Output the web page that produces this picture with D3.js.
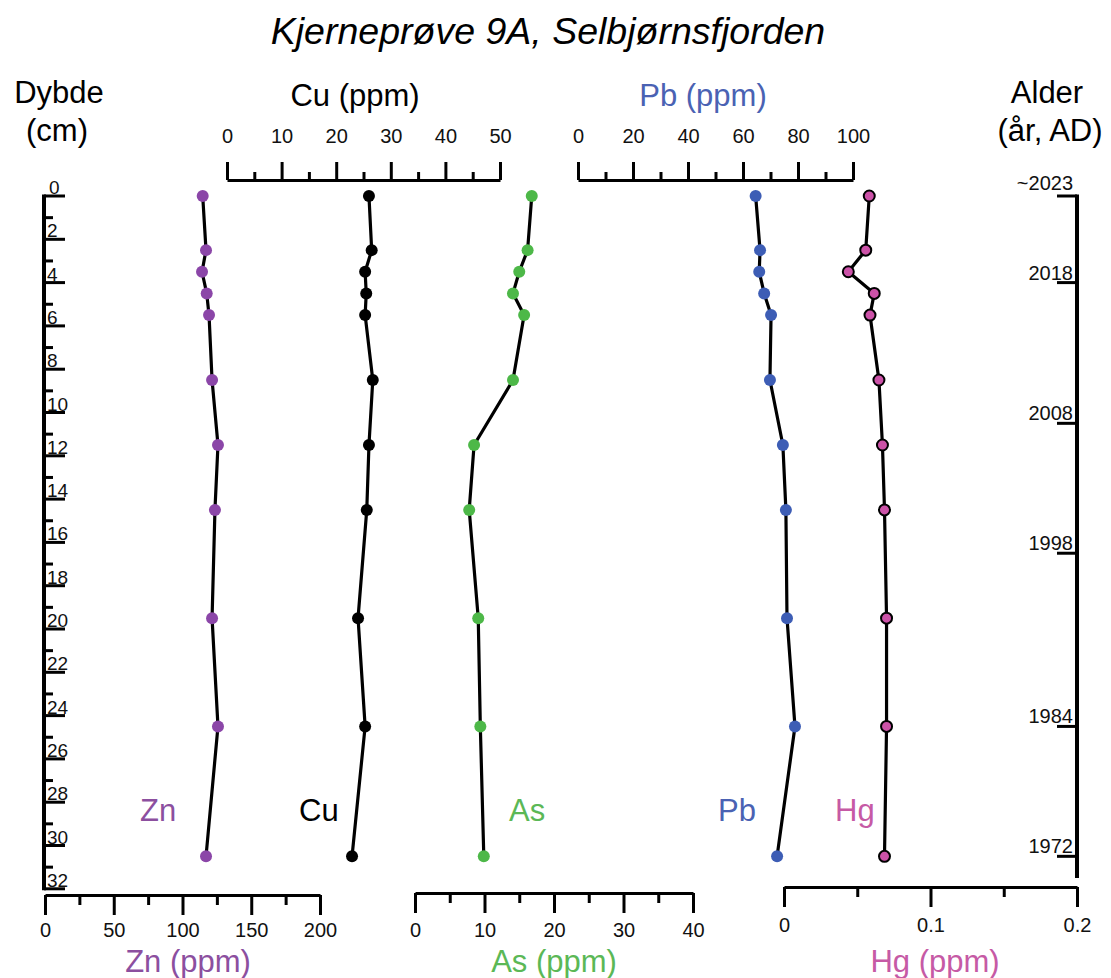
<!DOCTYPE html>
<html><head><meta charset="utf-8">
<script src="https://cdn.jsdelivr.net/npm/d3@7"></script>
<style>
body{margin:0;background:#fff;}
text{font-family:"Liberation Sans",Arial,sans-serif;}
</style></head>
<body><svg id="c" width="1111" height="978"></svg>
<script>
const depths = [0, 2.5, 3.5, 4.5, 5.5, 8.5, 11.5, 14.5, 19.5, 24.5, 30.5];
const zn = [114.7, 117.1, 114.2, 117.6, 119.3, 121.5, 125.8, 123.6, 121.5, 125.8, 117.1];
const cu = [26.0, 26.5, 25.3, 25.5, 25.3, 26.7, 26.0, 25.6, 24.0, 25.3, 22.9];
const as = [16.8, 16.2, 15.0, 14.1, 15.7, 14.1, 8.5, 7.8, 9.1, 9.4, 9.9];
const pb = [64.6, 66.2, 65.9, 67.7, 70.2, 69.8, 74.5, 75.6, 76.0, 78.9, 72.4];
const hg = [0.0582, 0.0558, 0.0439, 0.0616, 0.0587, 0.0648, 0.0672, 0.0686, 0.0700, 0.0700, 0.0686];
const ageLabels = ["~2023", "2018", "2008", "1998", "1984", "1972"];
const ageDepths = [0, 4, 10.5, 16.5, 24.5, 30.5];
const depthTicks = d3.range(0, 33, 1);
const znTicks = [0, 50, 100, 150, 200], znMinor = [25, 75, 125, 175];
const cuTicks = [0, 10, 20, 30, 40, 50], cuMinor = [5, 15, 25, 35, 45];
const asTicks = [0, 10, 20, 30, 40], asMinor = [5, 15, 25, 35];
const pbTicks = [0, 20, 40, 60, 80, 100], pbMinor = [10, 30, 50, 70, 90];
const hgTicks = [0, 0.1, 0.2], hgMinor = [0.05, 0.15];

const col = {zn:"#8b46a8", cu:"#000", as:"#4db848", pb:"#3d5db5", hg:"#cc52a8"};
const tcol = {zn:"#8c4f9f", as:"#5bb856", pb:"#4a62b3", hg:"#c65aa5"};

const svg = d3.select("#c");
const y = d3.scaleLinear([0, 32], [196, 888.8]);
const xZn = d3.scaleLinear([0, 200], [45, 320]);
const xCu = d3.scaleLinear([0, 50], [227, 500]);
const xAs = d3.scaleLinear([0, 40], [415, 693]);
const xPb = d3.scaleLinear([0, 100], [578, 853]);
const xHg = d3.scaleLinear([0, 0.2], [784, 1077]);

// Title
svg.append("text").attr("x", 548).attr("y", 44).attr("text-anchor", "middle")
  .attr("font-size", 37.5).attr("font-style", "italic").text("Kjerneprøve 9A, Selbjørnsfjorden");

function hAxis(scale, yPos, major, minor, dir, fmt, labelY, majLen, minLen) {
  const g = svg.append("g").attr("transform", `translate(0,${yPos})`);
  const ax = dir === "top" ? d3.axisTop(scale) : d3.axisBottom(scale);
  g.call(ax.tickValues(major).tickSize(majLen).tickSizeOuter(0).tickFormat(fmt));
  const ax2 = dir === "top" ? d3.axisTop(scale) : d3.axisBottom(scale);
  const g2 = svg.append("g").attr("transform", `translate(0,${yPos})`);
  g2.call(ax2.tickValues(minor).tickSize(minLen).tickSizeOuter(0).tickFormat(""));
  g2.select(".domain").remove();
  [g, g2].forEach(gg => {
    gg.selectAll("line").attr("stroke", "#000").attr("stroke-width", 3);
    gg.select(".domain").attr("stroke", "#000").attr("stroke-width", 3);
  });
  g.selectAll("text").attr("y", labelY - yPos).attr("dy", null)
    .attr("font-size", 20).attr("fill", "#111").attr("font-family", "Liberation Sans, Arial, sans-serif");
}
hAxis(xCu, 180, cuTicks, cuMinor, "top", d3.format("d"), 143, 18, 8);
hAxis(xPb, 180, pbTicks, pbMinor, "top", d3.format("d"), 143, 18, 8);
hAxis(xZn, 895, znTicks, znMinor, "bottom", d3.format("d"), 937, 20, 10);
hAxis(xAs, 893, asTicks, asMinor, "bottom", d3.format("d"), 937, 20, 10);
hAxis(xHg, 887, hgTicks, hgMinor, "bottom", v => v === 0 ? "0" : d3.format(".1f")(v), 932, 20, 10);

// Axis titles
function title(x, yy, txt, color) {
  svg.append("text").attr("x", x).attr("y", yy).attr("text-anchor", "middle")
    .attr("font-size", 31).attr("fill", color).text(txt);
}
title(355, 106, "Cu (ppm)", "#000");
title(703, 106, "Pb (ppm)", tcol.pb);
title(188, 972, "Zn (ppm)", tcol.zn);
title(554, 972, "As (ppm)", tcol.as);
title(935, 972, "Hg (ppm)", tcol.hg);
title(59, 103, "Dybde", "#000");
title(57, 141, "(cm)", "#000");
title(1047, 103, "Alder", "#000");
title(1050, 141, "(år, AD)", "#000");

// Depth axis
const dg = svg.append("g");
dg.append("line").attr("x1", 44).attr("x2", 44).attr("y1", y(0) - 1.5).attr("y2", y(32) + 1.5)
  .attr("stroke", "#000").attr("stroke-width", 4);
dg.selectAll("line.t").data(depthTicks).join("line").attr("class", "t")
  .attr("x1", 44).attr("x2", d => d % 2 === 0 ? 65 : 53)
  .attr("y1", d => y(d)).attr("y2", d => y(d))
  .attr("stroke", "#000").attr("stroke-width", 3);
dg.selectAll("text").data(depthTicks.filter(d => d % 2 === 0)).join("text")
  .attr("x", d => d === 0 ? 49 : 47).attr("y", d => y(d) - 2)
  .attr("font-size", 19).attr("fill", "#111").text(d => d);

// Age axis
const ag = svg.append("g");
ag.append("line").attr("x1", 1077).attr("x2", 1077).attr("y1", y(0) - 1.5).attr("y2", 878)
  .attr("stroke", "#000").attr("stroke-width", 4);
ag.selectAll("line.t").data(ageDepths).join("line").attr("class", "t")
  .attr("x1", 1057).attr("x2", 1077).attr("y1", d => y(d)).attr("y2", d => y(d))
  .attr("stroke", "#000").attr("stroke-width", 3);
ag.selectAll("text").data(ageLabels).join("text")
  .attr("x", 1073).attr("y", (d, i) => y(ageDepths[i]) - (i === 0 ? 6 : 3))
  .attr("text-anchor", "end").attr("font-size", 20).attr("fill", "#111").text(d => d);

// Series
function series(vals, xs, fill, stroke) {
  const pts = vals.map((v, i) => [xs(v), y(depths[i])]);
  svg.append("path").attr("d", d3.line()(pts)).attr("fill", "none")
    .attr("stroke", "#000").attr("stroke-width", 3.2).attr("stroke-linejoin", "round");
  svg.append("g").selectAll("circle").data(pts).join("circle")
    .attr("cx", d => d[0]).attr("cy", d => d[1]).attr("r", stroke ? 5.5 : 6)
    .attr("fill", fill).attr("stroke", stroke || "none").attr("stroke-width", stroke ? 2 : 0);
}
series(zn, xZn, col.zn);
series(cu, xCu, col.cu);
series(as, xAs, col.as);
series(pb, xPb, col.pb);
series(hg, xHg, col.hg, "#000");

// Series labels
function lab(x, txt, color) {
  svg.append("text").attr("x", x).attr("y", 821).attr("font-size", 31).attr("fill", color).text(txt);
}
lab(140, "Zn", tcol.zn);
lab(299, "Cu", "#000");
lab(509, "As", tcol.as);
lab(718, "Pb", tcol.pb);
lab(835, "Hg", tcol.hg);
</script></body></html>
